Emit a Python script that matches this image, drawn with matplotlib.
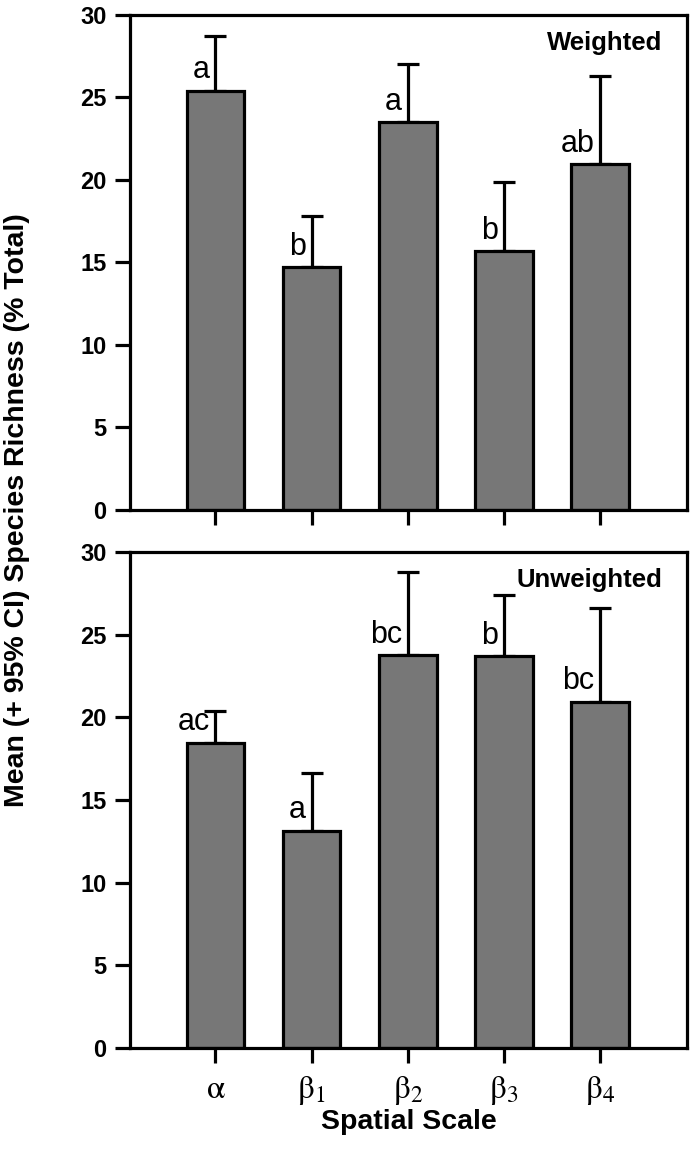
import numpy as np
import matplotlib.pyplot as plt

plt.rcParams['font.family'] = ['Liberation Sans', 'DejaVu Sans']
plt.rcParams['mathtext.fontset'] = 'stix'

# --- data ---
scales = [r'$\mathrm{\alpha}$', r'$\mathrm{\beta_1}$', r'$\mathrm{\beta_2}$',
          r'$\mathrm{\beta_3}$', r'$\mathrm{\beta_4}$']

w_mean = [25.4, 14.7, 23.5, 15.7, 20.95]
w_upper = [28.75, 17.8, 27.05, 19.85, 26.3]
w_letters = ['a', 'b', 'a', 'b', 'ab']

u_mean = [18.45, 13.15, 23.75, 23.7, 20.95]
u_upper = [20.4, 16.6, 28.8, 27.4, 26.6]
u_letters = ['ac', 'a', 'bc', 'b', 'bc']

fig = plt.figure(figsize=(6.95, 11.51), dpi=100)
ax1 = fig.add_axes([0.187, 0.557, 0.802, 0.430])
ax2 = fig.add_axes([0.187, 0.0895, 0.802, 0.431])

x = np.arange(len(scales))


def panel(ax, mean, upper, letters, title):
    mean = np.array(mean)
    err = np.array(upper) - mean
    ax.errorbar(x, mean, yerr=[np.zeros_like(err), err], fmt='none',
                ecolor='black', elinewidth=2.3, capsize=8, capthick=2.3, zorder=1)
    ax.bar(x, mean, width=0.6, color='#777777', edgecolor='black',
           linewidth=2.3, zorder=2)
    for xi, m, lab in zip(x, mean, letters):
        ax.text(xi - 0.06, m + 0.75, lab, ha='right', va='baseline',
                fontsize=22)
    ax.text(0.955, 0.967, title, transform=ax.transAxes, ha='right', va='top',
            fontsize=18.5, fontweight='bold')
    ax.set_xlim(-0.89, 4.91)
    ax.set_ylim(0, 30)
    ax.set_yticks([0, 5, 10, 15, 20, 25, 30])
    ax.set_xticks(x)
    for s in ax.spines.values():
        s.set_linewidth(2.3)
    ax.tick_params(axis='both', direction='out', length=11, width=2.3)
    ax.tick_params(axis='y', pad=6, labelsize=17)
    for t in ax.get_yticklabels():
        t.set_fontweight('bold')


panel(ax1, w_mean, w_upper, w_letters, 'Weighted')
panel(ax2, u_mean, u_upper, u_letters, 'Unweighted')

ax1.set_xticklabels([])
ax2.set_xticklabels(scales, fontsize=24)
ax2.tick_params(axis='x', pad=8)
ax2.set_xlabel('Spatial Scale', fontsize=20.5, fontweight='bold', labelpad=1)

fig.text(0.025, 0.557, 'Mean (+ 95% CI) Species Richness (% Total)',
         rotation=90, ha='center', va='center', fontsize=20.5,
         fontweight='bold')

fig.savefig('out.png', dpi=100)
